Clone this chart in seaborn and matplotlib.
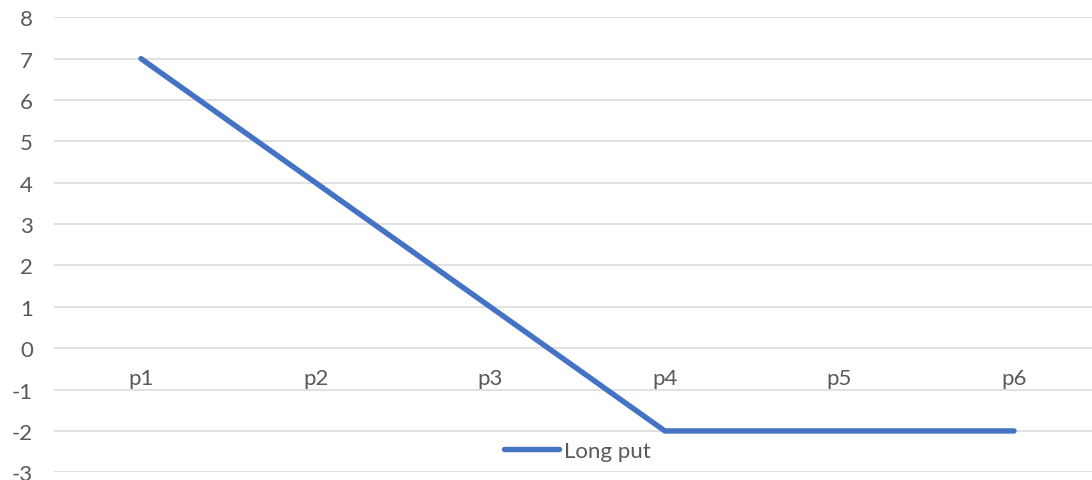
import matplotlib
matplotlib.use("Agg")
import matplotlib.pyplot as plt
import seaborn as sns
import pandas as pd

# Payoff of a long put position at six price points
categories = ["p1", "p2", "p3", "p4", "p5", "p6"]
payoff = [7, 4, 1, -2, -2, -2]
series_name = "Long put"
y_ticks = list(range(-3, 9))

sns.set_theme(style="white")
plt.rcParams["font.family"] = ["Lato", "DejaVu Sans"]

text_color = "#595959"
grid_color = "#D9D9D9"
line_color = "#4472C4"
font_size = 16

df = pd.DataFrame({"category": categories, "value": payoff})

fig = plt.figure(figsize=(10.92, 4.81), dpi=100)
ax = fig.add_axes([0.0492, 0.0160, 0.9593, 0.9460])

sns.lineplot(data=df, x="category", y="value", sort=False, ax=ax,
             color=line_color, linewidth=3.9, solid_capstyle="round",
             label=series_name)

ax.set_xlim(-0.5, len(categories) - 0.5)
ax.set_ylim(min(y_ticks), max(y_ticks))
ax.set_yticks(y_ticks)
ax.set_yticklabels([str(t) for t in y_ticks])
ax.set_xlabel("")
ax.set_ylabel("")

ax.grid(axis="y", color=grid_color, linewidth=1.1)
ax.set_axisbelow(True)
for side in ["top", "right", "left"]:
    ax.spines[side].set_visible(False)
# category axis crosses at zero, axis line itself hidden
ax.spines["bottom"].set_position(("data", 0))
ax.spines["bottom"].set_visible(False)

ax.tick_params(axis="y", length=0, pad=15, labelsize=font_size, labelcolor=text_color)
ax.tick_params(axis="x", length=0, pad=14, labelsize=font_size, labelcolor=text_color)

leg = ax.legend(loc="center", bbox_to_anchor=(0.5, 0.047), frameon=False,
                fontsize=font_size, handlelength=2.5, handletextpad=0.22,
                borderaxespad=0)
for t in leg.get_texts():
    t.set_color(text_color)
for h in leg.get_lines():
    h.set_solid_capstyle("round")

fig.savefig("out.png", dpi=100)
